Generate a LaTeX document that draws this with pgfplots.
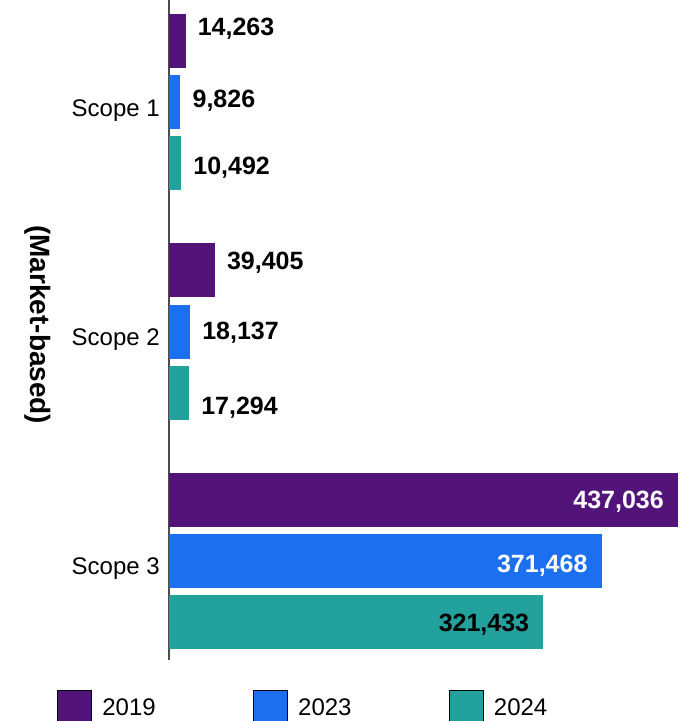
\documentclass[border=0pt]{standalone}
\usepackage{pgfplots}
\pgfplotsset{compat=1.18}
\usepackage{fontspec}
\setmainfont{Liberation Sans}
\definecolor{c2019}{HTML}{521479}
\definecolor{c2023}{HTML}{1C6FEE}
\definecolor{c2024}{HTML}{23A19C}
\pgfplotsset{
  sqlegend/.style={legend image code/.code={\fill[##1] (0pt,-16pt) rectangle (34pt,18pt);}},
  barbase/.style={xbar, bar width=54pt, bar shift=0pt, draw=none, forget plot, point meta=x,
    nodes near coords={\pgfmathprintnumber[fixed,precision=0,1000 sep={,},assume math mode=true]{\pgfplotspointmeta}}},
  outlab/.style={every node near coord/.append style={anchor=west, inner sep=0pt, xshift=12pt, yshift=#1, font=\bfseries\fontsize{25}{28}\selectfont, text=black}},
  inlab/.style 2 args={every node near coord/.append style={anchor=east, inner sep=0pt, xshift=-14pt, yshift=#1, font=\fontsize{25}{28}\selectfont\bfseries, text=#2}},
}
\begin{document}
\begin{tikzpicture}
\path[use as bounding box] (-169pt,-61pt) rectangle (515pt,660pt);
\begin{axis}[
  at={(0,0)}, anchor=south west,
  scale only axis, width=515pt, height=660pt,
  xmin=0, xmax=442188, ymin=-0.4323, ymax=2.4454,
  axis x line=none, axis y line*=left,
  y axis line style={-, draw=black!70, line width=1.2pt},
  ytick={0,1,2}, yticklabels={Scope 3, Scope 2, Scope 1},
  major tick length=0pt,
  yticklabel style={font=\fontsize{24}{28}\selectfont, inner sep=0pt, xshift=-9pt, yshift=-8pt},
  ylabel={(Market-based)},
  ylabel style={font=\bfseries\fontsize{28}{32}\selectfont, at={(axis description cs:-0.2544,0.508)}, anchor=center, rotate=180},
  clip=false,
  legend columns=3,
  legend cell align=left,
  legend style={at={(axis description cs:-0.2175,-0.04545)}, anchor=north west, draw=none, fill=none,
    inner sep=0pt, outer sep=0pt, font=\fontsize{24}{28}\selectfont, nodes={inner sep=0pt},
    /tikz/every odd column/.append style={column sep=11pt},
    /tikz/every even column/.append style={column sep=97pt}},
]
% Scope 1 (group centre 2)
\addplot[barbase, fill=c2019, outlab=12pt] coordinates {(14263,2.2664)};
\addplot[barbase, fill=c2023, outlab=1pt] coordinates {(9826,2)};
\addplot[barbase, fill=c2024, outlab=-4pt] coordinates {(10492,1.7336)};
% Scope 2 (group centre 1)
\addplot[barbase, fill=c2019, outlab=8pt] coordinates {(39405,1.2664)};
\addplot[barbase, fill=c2023, outlab=-1pt] coordinates {(18137,1)};
\addplot[barbase, fill=c2024, outlab=-15pt] coordinates {(17294,0.7336)};
% Scope 3 (group centre 0)
\addplot[barbase, fill=c2019, inlab={-2pt}{white}] coordinates {(437036,0.2664)};
\addplot[barbase, fill=c2023, inlab={-5pt}{white}] coordinates {(371468,0)};
\addplot[barbase, fill=c2024, inlab={-3pt}{black}] coordinates {(321433,-0.2664)};
\addlegendimage{sqlegend, fill=c2019}
\addlegendentry{2019}
\addlegendimage{sqlegend, fill=c2023}
\addlegendentry{2023}
\addlegendimage{sqlegend, fill=c2024}
\addlegendentry{2024}
\end{axis}
\end{tikzpicture}
\end{document}
